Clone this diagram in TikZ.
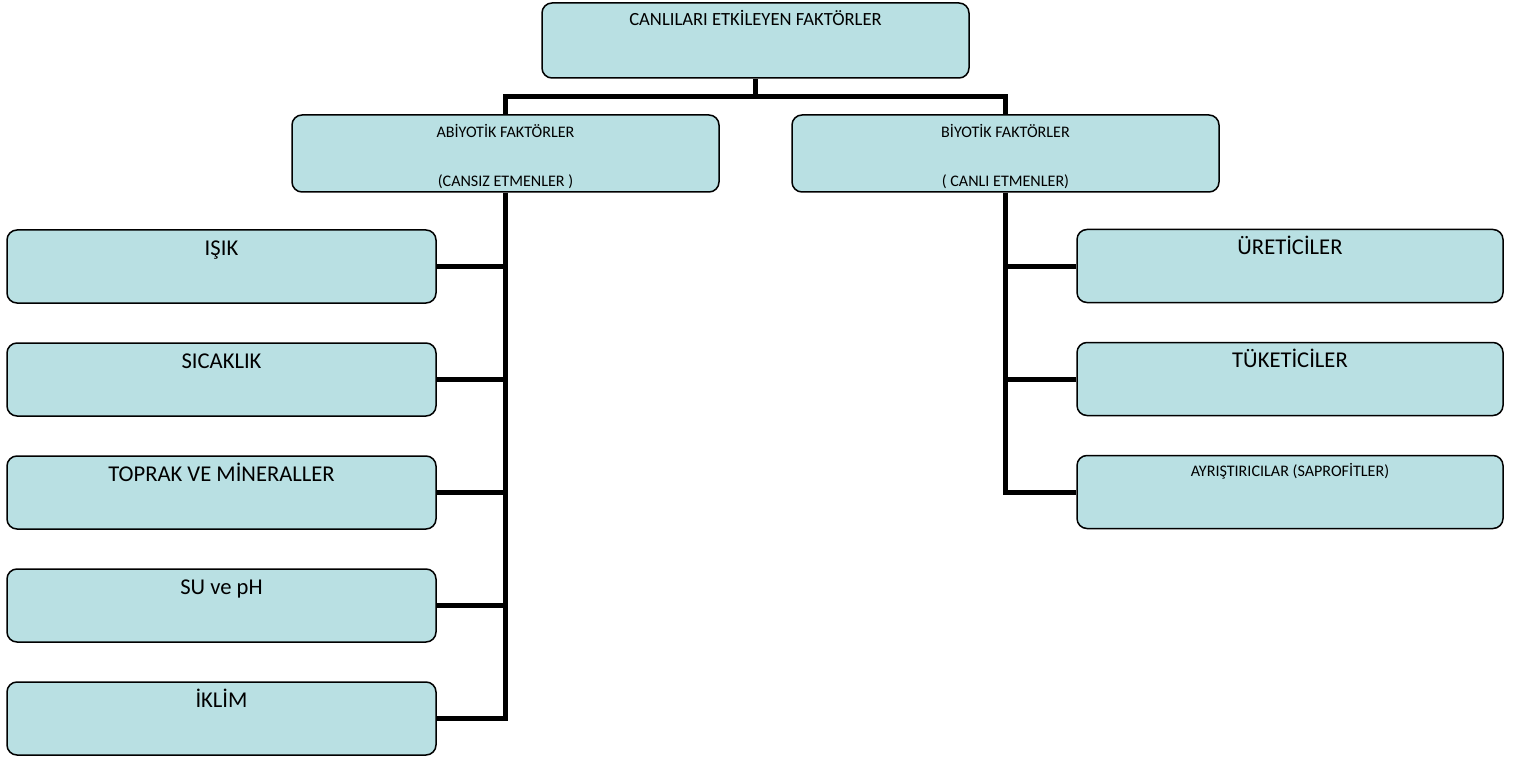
\documentclass[tikz,border=0pt]{standalone}
\usepackage{fontspec}
\setmainfont{Carlito}
\usepackage{xcolor}
\definecolor{kutu}{HTML}{B9E0E3}
\newcommand{\ustyazi}{\fontsize{18.6}{22}\selectfont}
\newcommand{\araydazi}{\fontsize{16.1}{19}\selectfont}
\newcommand{\yaprakyazi}{\fontsize{22.6}{26}\selectfont}

\begin{document}
\begin{tikzpicture}[x=1pt, y=-1pt,
      kutuA/.style = {draw, rounded corners = 10pt, fill = kutu, line width = 1.5pt, inner sep = 0pt, minimum height = 75pt},
      ustkutu/.style = {kutuA, minimum width = 427pt},
      solkutu/.style = {kutuA, minimum width = 429pt, minimum height = 73pt},
      sagkutu/.style = {kutuA, minimum width = 426pt, minimum height = 73pt},
      yazi/.style = {anchor = base, inner sep = 0pt, label distance = 0pt},
      bag/.style = {line width = 5pt}]
      \useasboundingbox (0, 0) rectangle (1515, 762);
      \node [ustkutu, label = {[yazi, yshift = -23pt, font = \ustyazi]north:CANLILARI ETKİLEYEN FAKTÖRLER}] (canli) at (755.5, 40.5) {};
      \node [ustkutu, minimum height = 77pt, label = {[yazi, yshift = -23pt, font = \araydazi]north:ABİYOTİK FAKTÖRLER}, label = {[yazi, yshift = -72pt, font = \araydazi]north:(CANSIZ ETMENLER )}] (abiyotik) at (505.5, 153.5) {};
      \node [ustkutu, minimum height = 77pt, label = {[yazi, yshift = -23pt, font = \araydazi]north:BİYOTİK FAKTÖRLER}, label = {[yazi, yshift = -72pt, font = \araydazi]north:( CANLI ETMENLER)}] (biyotik) at (1005.5, 153.5) {};
      \node [solkutu, label = {[yazi, yshift = -26pt, font = \yaprakyazi]north:IŞIK}] (isik) at (221.5, 266.5) {};
      \node [solkutu, label = {[yazi, yshift = -26pt, font = \yaprakyazi]north:SICAKLIK}] (sicaklik) at (221.5, 379.5) {};
      \node [solkutu, label = {[yazi, yshift = -26pt, font = \yaprakyazi]north:TOPRAK VE MİNERALLER}] (toprak) at (221.5, 492.5) {};
      \node [solkutu, label = {[yazi, yshift = -26pt, font = \yaprakyazi]north:SU ve pH}] (su) at (221.5, 605.5) {};
      \node [solkutu, label = {[yazi, yshift = -26pt, font = \yaprakyazi]north:İKLİM}] (iklim) at (221.5, 718.5) {};
      \node [sagkutu, label = {[yazi, yshift = -26pt, font = \yaprakyazi]north:ÜRETİCİLER}] (uretici) at (1290, 266) {};
      \node [sagkutu, label = {[yazi, yshift = -26pt, font = \yaprakyazi]north:TÜKETİCİLER}] (tuketici) at (1290, 379) {};
      \node [sagkutu, label = {[yazi, yshift = -22pt, font = \araydazi]north:AYRIŞTIRICILAR (SAPROFİTLER)}] (ayristirici) at (1290, 492) {};
      \coordinate (kol) at (755.5, 97);
      \draw[bag] (canli.south) -- (kol) -| (abiyotik.north);
      \draw[bag] (kol) -| (biyotik.north);
      \draw[bag] (abiyotik.south) |- (iklim.east);
      \draw[bag] (isik.east) -- (isik.east -| abiyotik.south);
      \draw[bag] (sicaklik.east) -- (sicaklik.east -| abiyotik.south);
      \draw[bag] (toprak.east) -- (toprak.east -| abiyotik.south);
      \draw[bag] (su.east) -- (su.east -| abiyotik.south);
      \draw[bag] (biyotik.south) |- (ayristirici.west);
      \draw[bag] (uretici.west) -- (uretici.west -| biyotik.south);
      \draw[bag] (tuketici.west) -- (tuketici.west -| biyotik.south);
    \end{tikzpicture}
\end{document}
